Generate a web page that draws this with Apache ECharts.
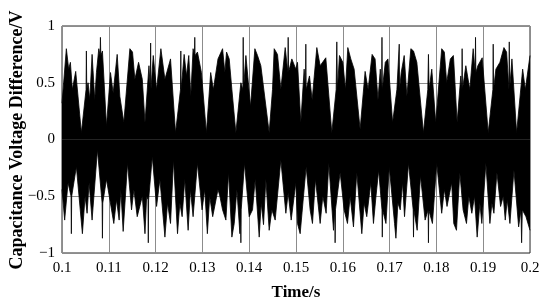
<!DOCTYPE html>
<html>
<head>
<meta charset="utf-8">
<script src="https://cdn.jsdelivr.net/npm/echarts@6/dist/echarts.min.js"></script>
<style>
  html, body { margin: 0; padding: 0; background: #fff; }
  #chart { width: 550px; height: 306px; }
</style>
</head>
<body>
<div id="chart"></div>
<script>
// Upper and lower envelope of the dense waveform (turning points)
const upperTime = [
  0.10000, 0.10093, 0.10143, 0.10179, 0.10221, 0.10293, 0.10414, 0.10514, 0.10521, 0.10529,
  0.10557, 0.10593, 0.10643, 0.10700, 0.10736, 0.10786, 0.10814, 0.10821, 0.10829, 0.10864,
  0.10950, 0.11036, 0.11093, 0.11179, 0.11236, 0.11321, 0.11450, 0.11507, 0.11557, 0.11636,
  0.11716, 0.11773, 0.11858, 0.11887, 0.11894, 0.11901, 0.11950, 0.12021, 0.12113, 0.12199,
  0.12319, 0.12426, 0.12532, 0.12539, 0.12546, 0.12610, 0.12660, 0.12709, 0.12752, 0.12801,
  0.12830, 0.12837, 0.12844, 0.12894, 0.12979, 0.13085, 0.13177, 0.13234, 0.13333,
  0.13374, 0.13431, 0.13480, 0.13516, 0.13573, 0.13630, 0.13715, 0.13822, 0.13865, 0.13872,
  0.13879, 0.13929, 0.14028, 0.14121, 0.14178, 0.14249, 0.14427, 0.14498, 0.14534, 0.14605,
  0.14676, 0.14769, 0.14826, 0.14833, 0.14840, 0.14911, 0.14996,
  0.15032, 0.15103, 0.15174, 0.15203, 0.15210, 0.15217, 0.15288, 0.15345, 0.15445, 0.15516,
  0.15637, 0.15765, 0.15858, 0.15872, 0.15886, 0.15929, 0.16000, 0.16057, 0.16107, 0.16171,
  0.16242, 0.16370, 0.16477, 0.16541, 0.16626, 0.16690,
  0.16709, 0.16752, 0.16801, 0.16830, 0.16837, 0.16844, 0.16908, 0.16965, 0.17064, 0.17156,
  0.17206, 0.17213, 0.17248, 0.17312, 0.17369, 0.17454, 0.17511, 0.17582, 0.17723, 0.17816,
  0.17830, 0.17844, 0.17901, 0.17986, 0.18113, 0.18170, 0.18220, 0.18298, 0.18362,
  0.18371, 0.18443, 0.18521, 0.18543, 0.18550, 0.18557, 0.18629, 0.18714, 0.18786, 0.18829,
  0.18836, 0.18843, 0.18886, 0.18979, 0.19107, 0.19207, 0.19214, 0.19221, 0.19271, 0.19357,
  0.19443, 0.19500, 0.19550, 0.19557, 0.19564, 0.19614, 0.19714, 0.19843, 0.19900, 0.20000
];
const upperValue = [
  0.32, 0.80, 0.62, 0.68, 0.44, 0.60, 0.06, 0.44, 0.78, 0.44,
  0.50, 0.35, 0.75, 0.35, 0.59, 0.80, 0.74, 0.90, 0.74, 0.78,
  0.12, 0.59, 0.41, 0.75, 0.38, 0.15, 0.80, 0.77, 0.53, 0.68,
  0.53, 0.15, 0.65, 0.44, 0.85, 0.44, 0.74, 0.44, 0.80, 0.53,
  0.71, 0.06, 0.44, 0.78, 0.44, 0.75, 0.56, 0.74, 0.38, 0.80,
  0.74, 0.90, 0.74, 0.77, 0.59, 0.06, 0.59, 0.44, 0.71,
  0.71, 0.80, 0.59, 0.77, 0.71, 0.44, 0.06, 0.50, 0.44, 0.90,
  0.44, 0.74, 0.29, 0.80, 0.74, 0.65, 0.06, 0.44, 0.80, 0.75,
  0.44, 0.81, 0.59, 0.90, 0.59, 0.71, 0.62,
  0.68, 0.15, 0.62, 0.44, 0.84, 0.44, 0.56, 0.35, 0.81, 0.65,
  0.72, 0.06, 0.44, 0.86, 0.44, 0.74, 0.68, 0.44, 0.81, 0.71,
  0.62, 0.09, 0.60, 0.44, 0.75, 0.71,
  0.71, 0.35, 0.62, 0.44, 0.90, 0.44, 0.68, 0.71, 0.15, 0.44,
  0.84, 0.44, 0.59, 0.74, 0.38, 0.80, 0.78, 0.68, 0.06, 0.44,
  0.75, 0.44, 0.62, 0.15, 0.80, 0.77, 0.50, 0.71, 0.74,
  0.69, 0.15, 0.56, 0.44, 0.80, 0.44, 0.65, 0.44, 0.80, 0.59,
  0.90, 0.59, 0.65, 0.72, 0.06, 0.44, 0.84, 0.44, 0.62, 0.68,
  0.81, 0.77, 0.44, 0.86, 0.44, 0.71, 0.06, 0.62, 0.44, 0.74
];
const lowerTime = [
  0.10000, 0.10057, 0.10129, 0.10193, 0.10200, 0.10207, 0.10307, 0.10436, 0.10493, 0.10536,
  0.10579, 0.10643, 0.10757, 0.10857, 0.10864, 0.10871, 0.10950, 0.11107, 0.11164, 0.11221,
  0.11257, 0.11307, 0.11400, 0.11486, 0.11536, 0.11607,
  0.11716, 0.11773, 0.11809, 0.11837, 0.11844, 0.11851, 0.11929, 0.12021, 0.12092, 0.12199,
  0.12255, 0.12319, 0.12383, 0.12468, 0.12518, 0.12567, 0.12624, 0.12695, 0.12745, 0.12801,
  0.12894, 0.12993, 0.13050, 0.13106, 0.13156, 0.13220, 0.13333,
  0.13374, 0.13431, 0.13502, 0.13559, 0.13630, 0.13680, 0.13737, 0.13801, 0.13815, 0.13822,
  0.13829, 0.13900, 0.14000, 0.14071, 0.14128, 0.14214, 0.14256, 0.14306, 0.14356, 0.14427,
  0.14484, 0.14555, 0.14676, 0.14783, 0.14833, 0.14897, 0.14996,
  0.15032, 0.15089, 0.15160, 0.15217, 0.15302, 0.15352, 0.15416, 0.15516, 0.15573, 0.15644,
  0.15701, 0.15801, 0.15829, 0.15836, 0.15843, 0.15943, 0.16028, 0.16100, 0.16157, 0.16228,
  0.16299, 0.16406, 0.16456, 0.16512, 0.16598, 0.16655,
  0.16709, 0.16766, 0.16837, 0.16844, 0.16851, 0.16922, 0.16993, 0.17106, 0.17135, 0.17177,
  0.17227, 0.17277, 0.17319, 0.17404, 0.17504, 0.17511, 0.17518, 0.17589, 0.17660, 0.17759,
  0.17823, 0.17830, 0.17837, 0.17915, 0.18007, 0.18113, 0.18170, 0.18227, 0.18326,
  0.18371, 0.18429, 0.18500, 0.18571, 0.18643, 0.18693, 0.18757, 0.18814, 0.18871, 0.18929,
  0.18971, 0.19057, 0.19143, 0.19186, 0.19229, 0.19293, 0.19371, 0.19429, 0.19471, 0.19514,
  0.19571, 0.19657, 0.19757, 0.19807, 0.19821, 0.19836, 0.19914, 0.20000
];
const lowerValue = [
  -0.44, -0.71, -0.38, -0.50, -0.83, -0.50, -0.24, -0.83, -0.50, -0.65,
  -0.38, -0.71, -0.09, -0.56, -0.87, -0.56, -0.35, -0.74, -0.53, -0.71,
  -0.44, -0.81, -0.21, -0.62, -0.44, -0.68,
  -0.50, -0.83, -0.50, -0.53, -0.91, -0.53, -0.15, -0.59, -0.35, -0.86,
  -0.56, -0.74, -0.18, -0.83, -0.56, -0.68, -0.35, -0.80, -0.44, -0.68,
  -0.21, -0.62, -0.44, -0.83, -0.50, -0.68, -0.44,
  -0.50, -0.62, -0.71, -0.29, -0.86, -0.74, -0.44, -0.83, -0.62, -0.91,
  -0.62, -0.21, -0.68, -0.62, -0.35, -0.86, -0.56, -0.75, -0.35, -0.80,
  -0.62, -0.71, -0.18, -0.65, -0.47, -0.71, -0.38,
  -0.74, -0.83, -0.50, -0.24, -0.62, -0.74, -0.35, -0.74, -0.50, -0.65,
  -0.21, -0.80, -0.62, -0.91, -0.62, -0.29, -0.62, -0.74, -0.50, -0.77,
  -0.29, -0.83, -0.56, -0.68, -0.38, -0.74,
  -0.50, -0.27, -0.62, -0.86, -0.62, -0.74, -0.24, -0.74, -0.87, -0.56,
  -0.62, -0.38, -0.68, -0.21, -0.62, -0.86, -0.62, -0.80, -0.32, -0.71,
  -0.62, -0.91, -0.62, -0.74, -0.21, -0.65, -0.44, -0.59, -0.38,
  -0.74, -0.80, -0.29, -0.62, -0.74, -0.50, -0.65, -0.50, -0.86, -0.56,
  -0.74, -0.21, -0.74, -0.56, -0.65, -0.29, -0.59, -0.50, -0.71, -0.53,
  -0.74, -0.27, -0.77, -0.62, -0.91, -0.62, -0.68, -0.80
];

const chart = echarts.init(document.getElementById('chart'), null, { renderer: 'canvas' });

const serif = '"Liberation Serif", "DejaVu Serif", serif';

const envelopeSeries = (times, values) => ({
  type: 'line',
  data: times.map((t, i) => [t, values[i]]),
  symbol: 'none',
  lineStyle: { color: '#000', width: 0.8 },
  areaStyle: { color: '#000', opacity: 1 },
  silent: true
});

chart.setOption({
  animation: false,
  backgroundColor: '#fff',
  grid: {
    left: 62, right: 20, top: 26, bottom: 53,
    containLabel: false, outerBoundsMode: 'none',
    show: true, borderColor: '#262626', borderWidth: 1, backgroundColor: 'transparent'
  },
  // y-axis title placed by hand, the axis name kept getting pushed off the left edge
  graphic: [{
    type: 'text',
    x: 17, y: 140,
    rotation: Math.PI / 2,
    style: {
      text: 'Capacitance Voltage Difference/V',
      font: 'bold 18px ' + serif,
      fill: '#000',
      align: 'center',
      verticalAlign: 'middle'
    }
  }],
  xAxis: {
    type: 'value',
    min: 0.1, max: 0.2, interval: 0.01,
    name: 'Time/s',
    nameLocation: 'middle',
    nameGap: 31,
    nameTextStyle: { fontFamily: serif, fontWeight: 'bold', fontSize: 17, color: '#000' },
    axisLine: { show: false },
    axisTick: { show: false },
    axisLabel: {
      fontFamily: serif, fontSize: 15, color: '#000', margin: 8,
      formatter: v => String(+v.toFixed(2))
    },
    splitLine: { show: true, lineStyle: { color: '#8c8c8c', width: 1 } }
  },
  yAxis: {
    type: 'value',
    min: -1, max: 1, interval: 0.5,
    axisLine: { show: false },
    axisTick: { show: false },
    axisLabel: {
      fontFamily: serif, fontSize: 15, color: '#000', margin: 7,
      formatter: v => String(v).replace('-', '\u2212')
    },
    splitLine: { show: true, lineStyle: { color: '#8c8c8c', width: 1 } }
  },
  series: [
    envelopeSeries(upperTime, upperValue),
    envelopeSeries(lowerTime, lowerValue)
  ]
});
</script>
</body>
</html>
